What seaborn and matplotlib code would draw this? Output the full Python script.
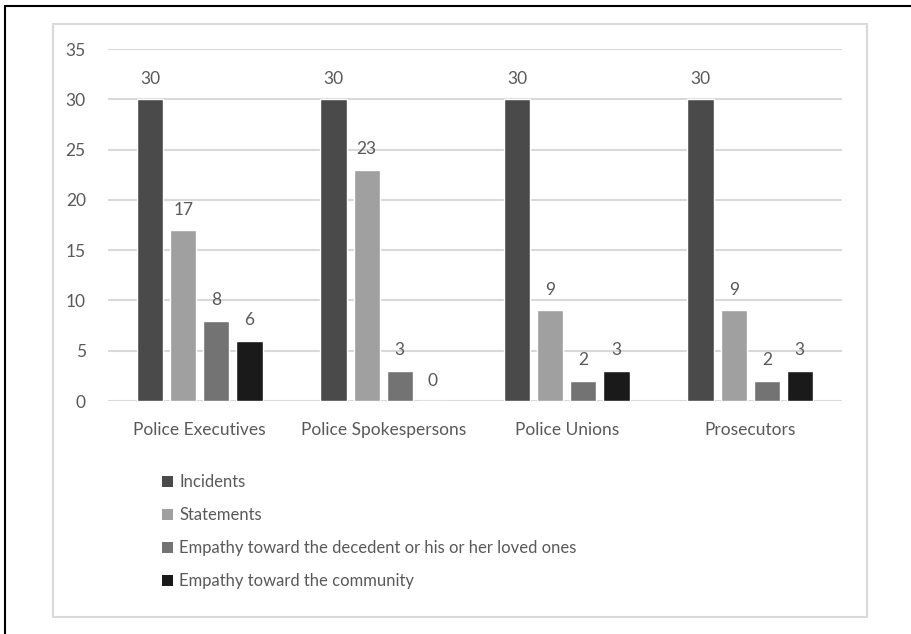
import matplotlib
matplotlib.use("Agg")
import matplotlib.pyplot as plt
import seaborn as sns
import pandas as pd
from matplotlib.patches import Rectangle, Patch
from matplotlib.lines import Line2D

categories = ["Police Executives", "Police Spokespersons", "Police Unions", "Prosecutors"]
series = ["Incidents", "Statements",
          "Empathy toward the decedent or his or her loved ones",
          "Empathy toward the community"]
incidents = [30, 30, 30, 30]
statements = [17, 23, 9, 9]
empathy_decedent = [8, 3, 2, 2]
empathy_community = [6, 0, 3, 3]
colors = ["#4a4a4a", "#a0a0a0", "#737373", "#1a1a1a"]

rows = []
for s, vals in zip(series, [incidents, statements, empathy_decedent, empathy_community]):
    for c, v in zip(categories, vals):
        rows.append({"category": c, "series": s, "value": v})
df = pd.DataFrame(rows)

sns.set_theme(style="white")
plt.rcParams["font.family"] = ["Lato", "DejaVu Sans"]
text_color = "#595959"

W, H = 912, 634
fig = plt.figure(figsize=(W / 100, H / 100), dpi=100)
ax = fig.add_axes([108 / W, 1 - 401 / H, (842 - 108) / W, (401 - 49) / H])

sns.barplot(data=df, x="category", y="value", hue="series", order=categories,
            hue_order=series, palette=colors, width=0.72, gap=0.2,
            saturation=1, ax=ax, legend=False)

ax.set_ylim(0, 35)
ax.set_yticks(range(0, 36, 5))
ax.set_xlim(-0.5, 3.5)
ax.yaxis.grid(True, color="#d9d9d9", linewidth=1.5)
ax.set_axisbelow(True)
for sp in ax.spines.values():
    sp.set_visible(False)
ax.set_xlabel("")
ax.set_ylabel("")
ax.tick_params(axis="both", length=0, labelsize=12.5, labelcolor=text_color)
ax.tick_params(axis="y", pad=16)
ax.tick_params(axis="x", pad=15)

for cont in ax.containers:
    ax.bar_label(cont, labels=[f"{int(b.get_height())}" for b in cont],
                 padding=9, fontsize=12.5, color=text_color)

handles = [Patch(facecolor=c, edgecolor="none") for c in colors]
fig.legend(handles, series, loc="upper left", bbox_to_anchor=(162 / W, 1 - 474 / H),
           frameon=False, fontsize=12, labelcolor=text_color,
           handlelength=0.65, handleheight=0.65, handletextpad=0.4,
           labelspacing=1.02, borderpad=0, borderaxespad=0)

# chart area border (light gray) and outer frame (black)
fig.patches.append(Rectangle((53 / W, 1 - 617 / H), (867 - 53) / W, (617 - 24) / H,
                             transform=fig.transFigure, fill=False,
                             edgecolor="#d9d9d9", linewidth=1.5, zorder=0))
fig.lines.append(Line2D([5 / W, 5 / W], [0, 1 - 5.5 / H], transform=fig.transFigure,
                        color="black", linewidth=1.5))
fig.lines.append(Line2D([5 / W, 1], [1 - 5.5 / H, 1 - 5.5 / H], transform=fig.transFigure,
                        color="black", linewidth=1.5))

fig.savefig("out.png", dpi=100, facecolor="white")
